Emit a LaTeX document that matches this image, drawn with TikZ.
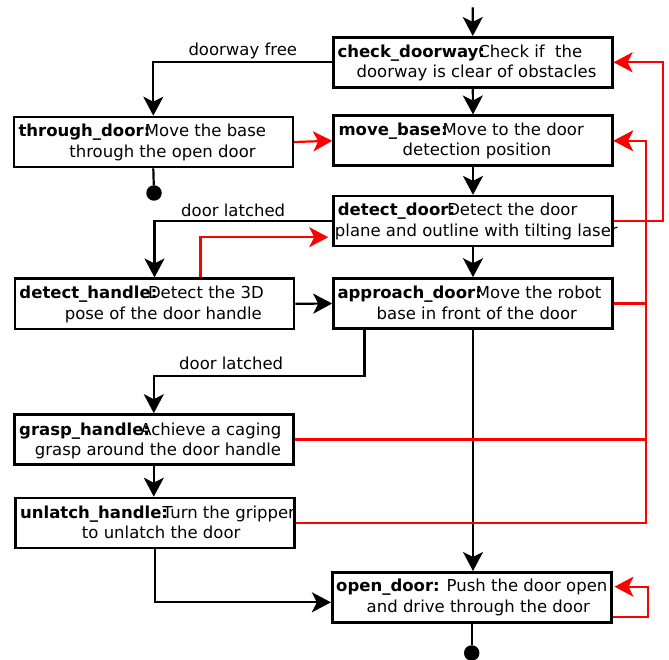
\documentclass[tikz,border=0pt]{standalone}
\usepackage{fontspec}
\setmainfont{DejaVu Sans}
\usetikzlibrary{arrows.meta}
\begin{document}
\begin{tikzpicture}[x=1pt,y=-1pt,
  box/.style={draw, line width=2.6pt, inner sep=0pt, minimum width=279pt, minimum height=50pt},
  txt/.style={inner sep=0pt, font=\fontsize{16.5}{20}\selectfont},
  tipstyle/.style={-{Stealth[length=19pt,width=20pt,inset=5pt]}},
  arr/.style={line width=2.2pt, tipstyle},
  rarr/.style={line width=2.2pt, red, tipstyle},
  plain/.style={line width=2.2pt},
  dot/.style={circle, fill, inner sep=0pt, minimum size=15.5pt}]
\useasboundingbox (0,0) rectangle (669,660);

% boxes
\node[box] (cd) at (472.8,62.3) {};
\node[box] (mb) at (473,140.8) {};
\node[box] (dd) at (473,221.2) {};
\node[box] (ad) at (473,303.5) {};
\node[box] (td) at (153.3,142) {};
\node[box] (dh) at (154.5,303.8) {};
\node[box] (gh) at (153.8,439.5) {};
\node[box] (uh) at (155,523) {};
\node[box] (od) at (471.7,597.3) {};

% texts
\node[txt, anchor=base west] (cdb) at (337.3,57.3) {\bfseries check\_doorway:};
\node[txt, anchor=base east] (cd1) at (582.5,57.3) {Check if\ \ the};
\node[txt, anchor=base] (cd2) at (476.5,77.5) {doorway is clear of obstacles};

\node[txt, anchor=base west] (mbb) at (338.3,136) {\bfseries move\_base:};
\node[txt, anchor=base east] (mb1) at (584,136) {Move to the door};
\node[txt, anchor=base] (mb2) at (477,156) {detection position};

\node[txt, anchor=base west] (ddb) at (337.7,216) {\bfseries detect\_door:};
\node[txt, anchor=base east] (dd1) at (577.5,216) {Detect the door};
\node[txt, anchor=base] (dd2) at (476.3,236.7) {plane and outline with tilting laser};

\node[txt, anchor=base west] (adb) at (337.3,298.3) {\bfseries approach\_door:};
\node[txt, anchor=base east] (ad1) at (601.5,298.3) {Move the robot};
\node[txt, anchor=base] (ad2) at (476.8,319) {base in front of the door};

\node[txt, anchor=base west] (tdb) at (18.3,136.7) {\bfseries through\_door:};
\node[txt, anchor=base east] (td1) at (266.3,136.7) {Move the base};
\node[txt, anchor=base] (td2) at (162.5,157.3) {through the open door};

\node[txt, anchor=base west] (dhb) at (19.3,298.3) {\bfseries detect\_handle:};
\node[txt, anchor=base east] (dh1) at (264,298.3) {Detect the 3D};
\node[txt, anchor=base] (dh2) at (163.3,319) {pose of the door handle};

\node[txt, anchor=base west] (ghb) at (19,435) {\bfseries grasp\_handle:};
\node[txt, anchor=base east] (gh1) at (281.5,435) {Achieve a caging};
\node[txt, anchor=base] (gh2) at (158,455) {grasp around the door handle};

\node[txt, anchor=base west] (uhb) at (20,518.3) {\bfseries unlatch\_handle:};
\node[txt, anchor=base east] (uh1) at (295.2,518.3) {Turn the gripper};
\node[txt, anchor=base] (uh2) at (161.2,538.3) {to unlatch the door};

\node[txt, anchor=base west] (od1) at (336,591.7) {\bfseries open\_door:\mdseries{} Push the door open};
\node[txt, anchor=base] (od2) at (478.3,612.3) {and drive through the door};

% labels
\node[txt, anchor=base west] (l1) at (188.3,56) {doorway free};
\node[txt, anchor=base west] (l2) at (181,216.7) {door latched};
\node[txt, anchor=base west] (l3) at (179,369.3) {door latched};

% end dots and start
\coordinate (start) at (472.7,7.3);
\node[dot] (end1) at (154,193) {};
\node[dot] (end2) at (471.7,653) {};
\coordinate (k1) at (364.5,375.7);
\coordinate (rx1) at (663.3,0);
\coordinate (rx2) at (646,0);

% black connectors
\draw[arr] (start) -- (cd.north);
\draw[arr] (cd.south) -- (mb.north);
\draw[arr] (mb.south) -- (dd.north);
\draw[arr] (dd.south) -- (ad.north);
\draw[arr] (ad.south) -- (ad.south |- od.north);
\draw[arr] (cd.west) -| (td.north);
\draw[arr] (dd.west) -| (dh.north);
\draw[arr] (dh.east) -- (ad.west);
\draw[arr] (k1 |- ad.south) -- (k1) -| (gh.north);
\draw[arr] (gh.south) -- (gh.south |- uh.north);
\draw[arr] (uh.south) |- ([yshift=-5pt]od.west);
\draw[plain] (td.south) -- (end1);
\draw[plain] (od.south) -- (end2);

% red connectors
\draw[rarr] (td.east) -- (mb.west);
\draw[rarr, shorten >=4pt] ([xshift=46pt]dh.north) |- ([yshift=-16pt]dd.west);
\draw[rarr] (dd.east) -- (dd.east -| rx1) |- (cd.east);
\draw[rarr] (ad.east) -- (ad.east -| rx2) |- (mb.east);
\draw[rarr] (gh.east) -- (gh.east -| rx2) |- (mb.east);
\draw[rarr] (uh.east) -- (uh.east -| rx2) |- (mb.east);
\draw[rarr, shorten >=2pt] ([yshift=-19.4pt]od.east) -- ++(35.5,0) |- ([yshift=10.6pt]od.east);
\end{tikzpicture}
\end{document}
